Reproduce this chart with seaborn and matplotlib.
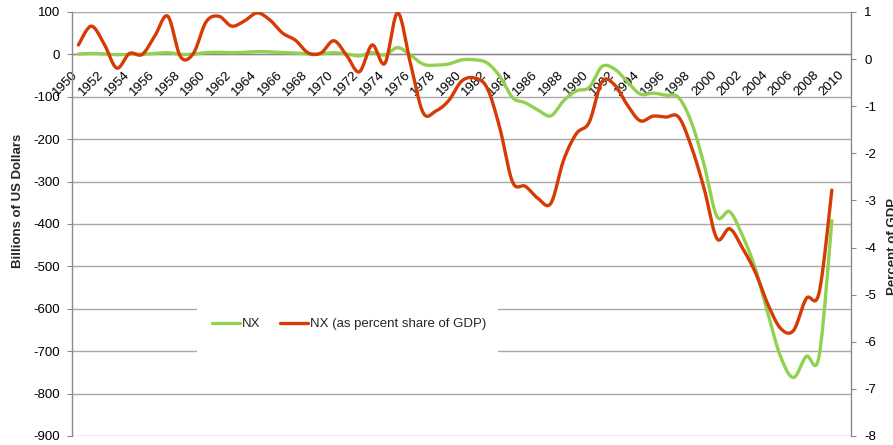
import numpy as np
import pandas as pd
import matplotlib
matplotlib.use("Agg")
import matplotlib.pyplot as plt
from matplotlib.lines import Line2D
from matplotlib.patches import Rectangle
import seaborn as sns

# ---- data -----------------------------------------------------------------
years = list(range(1950, 2010))

# Net exports, billions of US dollars
nx_billions = [
    0.9, 2.4, 1.2, -0.8, 0.5, 0.4, 2.2, 4.2, 0.2, 0.6,
    4.2, 5.0, 4.1, 5.0, 6.5, 6.0, 4.3, 3.3, 1.2, 1.3,
    4.0, 0.9, -3.3, 4.1, -1.4, 16.0, -1.6, -23.1, -25.4, -22.5,
    -13.1, -12.5, -20.0, -51.7, -102.0, -114.2, -131.5, -144.8, -109.4, -86.1,
    -77.8, -28.6, -34.8, -65.0, -93.6, -91.4, -96.2, -101.6, -159.9, -260.5,
    -382.1, -371.0, -427.2, -504.1, -612.0, -714.0, -762.0, -712.0, -712.0, -392.0,
]

# Net exports as percent share of GDP
nx_pct_gdp = [
    0.30, 0.70, 0.33, -0.19, 0.12, 0.10, 0.50, 0.91, 0.05, 0.12,
    0.79, 0.91, 0.70, 0.81, 0.98, 0.83, 0.55, 0.40, 0.13, 0.13,
    0.39, 0.08, -0.27, 0.30, -0.09, 0.98, -0.09, -1.14, -1.10, -0.88,
    -0.47, -0.40, -0.61, -1.46, -2.61, -2.70, -2.96, -3.06, -2.14, -1.58,
    -1.34, -0.48, -0.55, -0.98, -1.31, -1.21, -1.23, -1.23, -1.86, -2.75,
    -3.81, -3.60, -4.01, -4.52, -5.21, -5.72, -5.76, -5.08, -4.96, -2.78,
]

tick_years = list(range(1950, 2011, 2))
series_names = ["NX", "NX (as percent share of GDP)"]

GREEN = "#92D050"
RED = "#D63A05"
GRID = "#A9A9A9"
AXIS = "#8A8A8A"


def smoothed(x, y, steps=20):
    """Bezier-smoothed polyline through every (x, y) point (spreadsheet-style smoothing)."""
    x = np.asarray(x, float)
    y = np.asarray(y, float)
    px = np.concatenate([[x[0]], x, [x[-1]]])
    py = np.concatenate([[y[0]], y, [y[-1]]])
    t = np.linspace(0, 1, steps, endpoint=False)[:, None]
    segs_x, segs_y = [], []
    for i in range(1, len(px) - 2):
        p0x, p1x, p2x, p3x = px[i], px[i] + (px[i + 1] - px[i - 1]) / 6, px[i + 1] - (px[i + 2] - px[i]) / 6, px[i + 1]
        p0y, p1y, p2y, p3y = py[i], py[i] + (py[i + 1] - py[i - 1]) / 6, py[i + 1] - (py[i + 2] - py[i]) / 6, py[i + 1]
        b = [(1 - t) ** 3, 3 * (1 - t) ** 2 * t, 3 * (1 - t) * t ** 2, t ** 3]
        segs_x.append((b[0] * p0x + b[1] * p1x + b[2] * p2x + b[3] * p3x).ravel())
        segs_y.append((b[0] * p0y + b[1] * p1y + b[2] * p2y + b[3] * p3y).ravel())
    sx = np.concatenate(segs_x + [[x[-1]]])
    sy = np.concatenate(segs_y + [[y[-1]]])
    return pd.DataFrame({"year": sx, "value": sy})


sns.set_style("white")
plt.rcParams["font.family"] = ["Liberation Sans", "DejaVu Sans"]
plt.rcParams["font.size"] = 9

W, H = 893, 445
fig = plt.figure(figsize=(W / 100, H / 100), dpi=100)
left, right, top, bottom = 72, 851, 12, 436
ax = fig.add_axes([left / W, 1 - bottom / H, (right - left) / W, (bottom - top) / H])
ax2 = ax.twinx()

green_df = smoothed(years, nx_billions)
red_df = smoothed(years, nx_pct_gdp)

sns.lineplot(data=green_df, x="year", y="value", ax=ax, color=GREEN, lw=2.4,
             sort=False, estimator=None, zorder=3)
sns.lineplot(data=red_df, x="year", y="value", ax=ax2, color=RED, lw=2.4,
             sort=False, estimator=None, zorder=3)

# ---- primary axis -----------------------------------------------------------
ax.set_xlim(1949.5, 2010.5)
ax.set_ylim(-900, 100)
ax.set_yticks(np.arange(-900, 101, 100))
ax.set_yticklabels([str(v) for v in range(-900, 101, 100)])
ax.yaxis.grid(True, color=GRID, lw=1.0)
ax.xaxis.grid(False)
ax.set_axisbelow(True)
ax.set_xlabel("")
ax.set_ylabel("")

for s in ["top", "right"]:
    ax.spines[s].set_visible(False)
ax.spines["left"].set_color(AXIS)
ax.spines["left"].set_linewidth(1.0)
ax.spines["bottom"].set_position(("data", 0))
ax.spines["bottom"].set_color(AXIS)
ax.spines["bottom"].set_linewidth(1.0)

ax.set_xticks(tick_years)
ax.set_xticklabels([str(y) for y in tick_years], rotation=45, ha="right",
                   va="baseline", rotation_mode="anchor")
ax.set_xticks(np.arange(1949.5, 2011.0, 1.0), minor=True)
ax.tick_params(axis="x", which="major", length=0, pad=15, labelsize=9.5, colors="black")
ax.tick_params(axis="x", which="minor", length=3, width=0.8, color=AXIS, direction="out")
ax.tick_params(axis="y", which="major", left=True, length=3.5, width=0.8, color=AXIS,
               pad=5, labelsize=9.5, labelcolor="black", direction="out")

# ---- secondary axis ---------------------------------------------------------
ax2.set_ylim(-8, 1)
ax2.set_yticks(np.arange(-8, 2, 1))
ax2.set_yticklabels([str(v) for v in range(-8, 2)])
ax2.grid(False)
ax2.set_ylabel("")
for s in ["top", "left", "bottom"]:
    ax2.spines[s].set_visible(False)
ax2.spines["right"].set_color(AXIS)
ax2.spines["right"].set_linewidth(1.0)
ax2.tick_params(axis="y", which="major", right=True, length=3.5, width=0.8, color=AXIS,
                pad=6, labelsize=9.5, labelcolor="black", direction="out")

# ---- axis titles -------------------------------------------------------------
fig.text(18 / W, 1 - 201 / H, "Billions of US Dollars", rotation=90, ha="center",
         va="center", fontsize=9.5, fontweight="bold")
fig.text(887 / W, 1 - 246 / H, "Percent of GDP", rotation=90, ha="left",
         va="center", fontsize=9.5, fontweight="bold")

# ---- legend (white panel behind it hides the gridlines) ---------------------
ax.add_patch(Rectangle((197 / W, 1 - 357 / H), 301 / W, 54 / H,
                       transform=fig.transFigure, facecolor="white",
                       edgecolor="none", zorder=1))
handles = [Line2D([], [], color=GREEN, lw=2.4), Line2D([], [], color=RED, lw=2.4)]
leg = ax2.legend(handles, series_names, loc="center",
                 bbox_to_anchor=(349 / W, 1 - 324 / H), bbox_transform=fig.transFigure,
                 ncol=2, frameon=False, borderpad=0.2,
                 handlelength=2.1, handletextpad=0.15, columnspacing=1.5,
                 fontsize=9.5)

fig.savefig("out.png", dpi=100, facecolor="white")
